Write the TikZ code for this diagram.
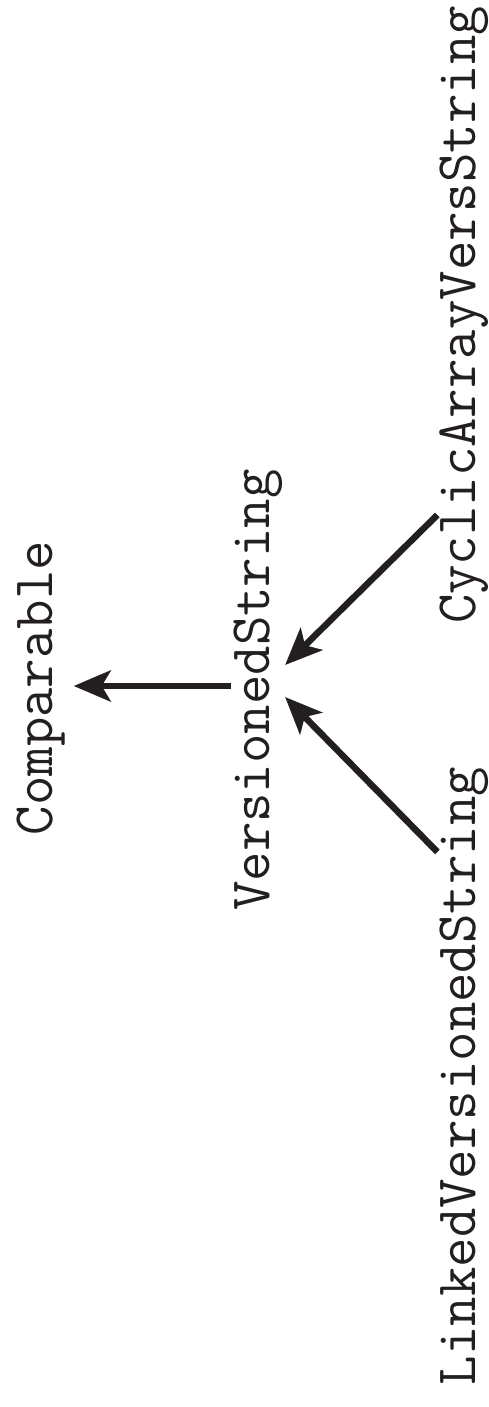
\documentclass[tikz,border=0pt]{standalone}
\usetikzlibrary{arrows.meta,calc}
\definecolor{ink}{HTML}{231F20}
\begin{document}
\begin{tikzpicture}[x=1pt,y=-1pt,
  lbl/.style={rotate=90,anchor=base,inner sep=0pt,outer sep=0pt,text=ink,
    font=\fontsize{57.14pt}{60pt}\selectfont\ttfamily},
  arr/.style={draw=ink,line width=6.5pt,-{Stealth[length=37pt,width=31pt,inset=9pt]}}]
\useasboundingbox (0,0) rectangle (488,1407);
\node[lbl] (comp) at (52,688) {Comparable};
\node[lbl] (ver) at (269,690) {VersionedString};
\node[lbl] (cyc) at (475,315) {CyclicArrayVersString};
\node[lbl] (lnk) at (475,1076) {LinkedVersionedString};
\draw[arr] ($(ver.north)+(-2,-4)$) -- ($(comp.south)+(9,-2)$);
\draw[arr] ($(cyc.north)+(-2,200)$) -- ($(ver.south)+(3,-25)$);
\draw[arr] ($(lnk.north)+(-2,-224)$) -- ($(ver.south)+(3,7)$);
\end{tikzpicture}
\end{document}
